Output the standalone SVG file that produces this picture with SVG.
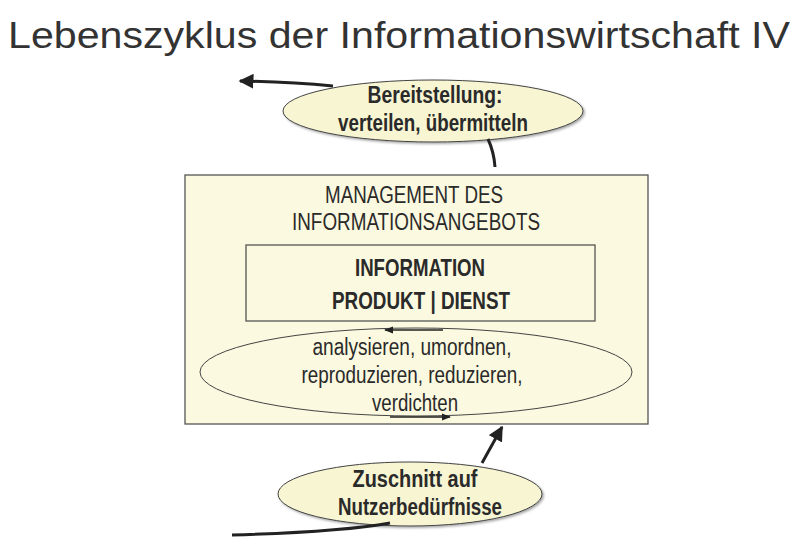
<svg xmlns="http://www.w3.org/2000/svg" width="804" height="555" viewBox="0 0 804 555">
<defs>
<marker id="ah" viewBox="0 0 10 10" refX="9" refY="5" markerWidth="5" markerHeight="5" orient="auto-start-reverse" markerUnits="strokeWidth">
<path d="M0,0 L10,5 L0,10 z" fill="#222"/>
</marker>
<marker id="ahs" viewBox="0 0 10 10" refX="9" refY="5" markerWidth="6" markerHeight="6" orient="auto" markerUnits="strokeWidth">
<path d="M0,1 L10,5 L0,9 z" fill="#222"/>
</marker>
<filter id="sh" x="-10%" y="-10%" width="130%" height="140%">
<feDropShadow dx="1.5" dy="1.5" stdDeviation="1" flood-color="#000" flood-opacity="0.35"/>
</filter>
</defs>
<style>
text{font-family:"Liberation Sans",Arial,sans-serif;fill:#2a2a2a;text-anchor:middle}
.t{font-size:23px}
.b{font-size:23px;font-weight:bold}
.title{font-size:36px;text-anchor:start;fill:#333}
.ell{fill:#f8f5d2;stroke:#444;stroke-width:1}
.box{fill:#fbf9df;stroke:#555;stroke-width:1.3}
.ln{fill:none;stroke:#222;stroke-width:3}
.thin{fill:none;stroke:#222;stroke-width:1.5}
</style>
<rect width="804" height="555" fill="#fff"/>
<text class="title" x="8" y="48" textLength="782" lengthAdjust="spacingAndGlyphs">Lebenszyklus der Informationswirtschaft IV</text>

<g id="management">
<rect class="box" x="185" y="175" width="463" height="249"/>
<text class="t" x="414" y="203" textLength="178" lengthAdjust="spacingAndGlyphs">MANAGEMENT DES</text>
<text class="t" x="416" y="230" textLength="248" lengthAdjust="spacingAndGlyphs">INFORMATIONSANGEBOTS</text>
</g>
<g id="information">
<rect class="box" x="246" y="245" width="349" height="76"/>
<text class="b" x="420" y="276" textLength="130" lengthAdjust="spacingAndGlyphs">INFORMATION</text>
<text class="b" x="421" y="309" textLength="178" lengthAdjust="spacingAndGlyphs">PRODUKT | DIENST</text>
</g>
<g id="prozess">
<ellipse class="ell" cx="416" cy="372" rx="216" ry="44" style="fill:none"/>
<text class="t" x="412" y="355" textLength="199" lengthAdjust="spacingAndGlyphs">analysieren, umordnen,</text>
<text class="t" x="412" y="383" textLength="221" lengthAdjust="spacingAndGlyphs">reproduzieren, reduzieren,</text>
<text class="t" x="415" y="411" textLength="86" lengthAdjust="spacingAndGlyphs">verdichten</text>
</g>
<g id="bereitstellung">
<ellipse class="ell" cx="433" cy="111" rx="150" ry="31" filter="url(#sh)"/>
<text class="b" x="435" y="103" textLength="135" lengthAdjust="spacingAndGlyphs">Bereitstellung:</text>
<text class="b" x="433" y="131" textLength="190" lengthAdjust="spacingAndGlyphs">verteilen, übermitteln</text>
</g>
<g id="zuschnitt">
<ellipse class="ell" cx="410" cy="494" rx="132" ry="32" filter="url(#sh)"/>
<text class="b" x="415" y="487" textLength="125" lengthAdjust="spacingAndGlyphs">Zuschnitt auf</text>
<text class="b" x="420" y="515" textLength="164" lengthAdjust="spacingAndGlyphs">Nutzerbedürfnisse</text>
</g>
<g id="connectors">
<path class="ln" d="M333,86 Q290,82 240,81" marker-end="url(#ah)"/>
<path class="ln" d="M488,139 Q494,152 495,167"/>
<path class="ln" d="M482,463 Q492,445 502,427" marker-end="url(#ah)"/>
<path class="ln" d="M232,535 Q340,532 390,523"/>
<path class="thin" d="M443,330 L385,330" marker-end="url(#ahs)"/>
<path class="thin" d="M390,417 L450,417" marker-end="url(#ahs)"/>
</g>
</svg>
